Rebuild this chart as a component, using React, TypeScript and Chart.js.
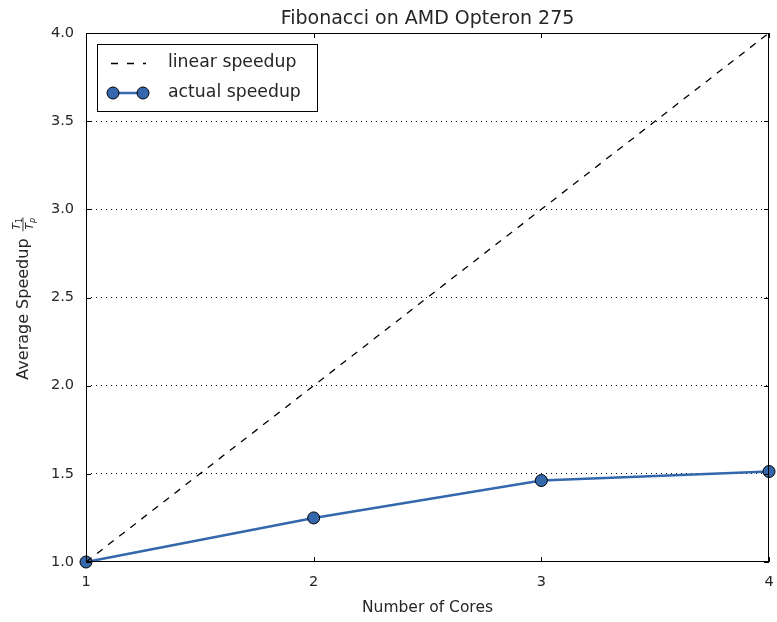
import React, { useEffect, useRef } from "react";
import { Chart, registerables } from "chart.js";
Chart.register(...registerables);

const cores = [1, 2, 3, 4];
const linearSpeedup = [1, 2, 3, 4];
const actualSpeedup = [1.0, 1.25, 1.462, 1.513];
const yTicks = [1.0, 1.5, 2.0, 2.5, 3.0, 3.5, 4.0];
const titleText = "Fibonacci on AMD Opteron 275";
const xTitle = "Number of Cores";
const yTitle = "Average Speedup";
const legendLabels = ["linear speedup", "actual speedup"];

const FONT = "'DejaVu Sans', sans-serif";
const BLUE = "#3467ab";
const TXT = "#262626";

const decorPlugin = {
  id: "decor",
  afterDatasetsDraw(chart: any) {
    const { ctx, chartArea: a, scales } = chart;
    const xs = scales.x, ys = scales.y;
    ctx.save();
    ctx.strokeStyle = "#000";
    ctx.lineWidth = 1;
    ctx.setLineDash([]);
    ctx.strokeRect(a.left + 0.5, a.top + 0.5, a.right - a.left - 1, a.bottom - a.top - 1);
    ctx.beginPath();
    cores.forEach((c) => {
      const x = Math.round(xs.getPixelForValue(c)) + 0.5;
      ctx.moveTo(x, a.bottom); ctx.lineTo(x, a.bottom - 5);
      ctx.moveTo(x, a.top); ctx.lineTo(x, a.top + 5);
    });
    yTicks.forEach((v) => {
      const y = Math.round(ys.getPixelForValue(v)) + 0.5;
      ctx.moveTo(a.left, y); ctx.lineTo(a.left + 5, y);
      ctx.moveTo(a.right, y); ctx.lineTo(a.right - 5, y);
    });
    ctx.stroke();
    ctx.restore();
  },
  afterDraw(chart: any) {
    const { ctx, chartArea: a } = chart;
    ctx.save();
    ctx.fillStyle = TXT;
    ctx.font = `19px ${FONT}`;
    ctx.textAlign = "center";
    ctx.textBaseline = "alphabetic";
    ctx.fillText(titleText, (a.left + a.right) / 2, 24);
    ctx.font = `15.5px ${FONT}`;
    ctx.fillText(xTitle, (a.left + a.right) / 2, 612);
    // y title with fraction
    ctx.translate(28, 0);
    ctx.rotate(-Math.PI / 2);
    ctx.font = `16px ${FONT}`;
    ctx.textAlign = "left";
    const w = ctx.measureText(yTitle + " ").width;
    const fracW = 18;
    const total = w + fracW;
    const mid = (a.top + a.bottom) / 2;
    const start = -(mid + total / 2);
    ctx.fillText(yTitle, start, 0);
    const fx = start + w + fracW / 2;
    ctx.textAlign = "center";
    ctx.font = `italic 11px ${FONT}`;
    ctx.fillText("T", fx - 2, -8);
    ctx.font = `8px ${FONT}`;
    ctx.fillText("1", fx + 4, -6);
    ctx.font = `italic 11px ${FONT}`;
    ctx.fillText("T", fx - 2, 5);
    ctx.font = `italic 8px ${FONT}`;
    ctx.fillText("p", fx + 4, 7);
    ctx.fillRect(fx - 7, -5.5, 14, 0.9);
    ctx.setTransform(1, 0, 0, 1, 0, 0);
    // legend
    const lx = 97, ly = 44, lw = 220, lh = 67;
    ctx.fillStyle = "#fff";
    ctx.fillRect(lx, ly, lw, lh);
    ctx.strokeStyle = "#000";
    ctx.lineWidth = 1;
    ctx.strokeRect(lx + 0.5, ly + 0.5, lw, lh);
    ctx.beginPath();
    ctx.setLineDash([7, 9]);
    ctx.lineWidth = 1.3;
    ctx.moveTo(111, 63.5); ctx.lineTo(146, 63.5);
    ctx.stroke();
    ctx.setLineDash([]);
    ctx.strokeStyle = BLUE;
    ctx.lineWidth = 2.5;
    ctx.beginPath();
    ctx.moveTo(113, 93); ctx.lineTo(143, 93);
    ctx.stroke();
    [113, 143].forEach((x) => {
      ctx.beginPath();
      ctx.arc(x, 93, 6, 0, Math.PI * 2);
      ctx.fillStyle = BLUE;
      ctx.fill();
      ctx.strokeStyle = "#000";
      ctx.lineWidth = 1;
      ctx.stroke();
    });
    ctx.fillStyle = TXT;
    ctx.font = `17.3px ${FONT}`;
    ctx.textAlign = "left";
    ctx.textBaseline = "middle";
    ctx.fillText(legendLabels[0], 168, 63);
    ctx.fillText(legendLabels[1], 168, 93);
    ctx.restore();
  },
};

export default function App() {
  const ref = useRef<HTMLCanvasElement>(null);
  useEffect(() => {
    document.body.style.margin = "0";
    const chart = new Chart(ref.current!, {
      type: "line",
      data: {
        datasets: [
          {
            label: legendLabels[0],
            data: cores.map((c, i) => ({ x: c, y: linearSpeedup[i] })),
            borderColor: "#000",
            borderWidth: 1.3,
            borderDash: [7, 7],
            pointRadius: 0,
            fill: false,
          },
          {
            label: legendLabels[1],
            data: cores.map((c, i) => ({ x: c, y: actualSpeedup[i] })),
            borderColor: BLUE,
            borderWidth: 2.5,
            pointRadius: 6,
            pointBackgroundColor: BLUE,
            pointBorderColor: "#000",
            pointBorderWidth: 1,
            fill: false,
          },
        ],
      },
      options: {
        animation: false,
        responsive: false,
        clip: false as any,
        layout: { padding: { left: 0, top: 33, right: 8, bottom: 0 } },
        plugins: { legend: { display: false }, title: { display: false }, tooltip: { enabled: false } },
        scales: {
          x: {
            type: "linear",
            min: 1,
            max: 4,
            afterFit: (s: any) => { s.height = 60; s.paddingRight = 0; s.paddingLeft = 0; },
            afterBuildTicks: (s: any) => { s.ticks = cores.map((v) => ({ value: v })); },
            grid: { display: false, drawTicks: false },
            border: { display: false },
            ticks: { padding: 12, color: TXT, font: { family: FONT, size: 14.5 }, callback: (v: any) => String(v) },
          },
          y: {
            type: "linear",
            min: 1,
            max: 4,
            afterFit: (s: any) => { s.width = 86; },
            afterBuildTicks: (s: any) => { s.ticks = yTicks.map((v) => ({ value: v })); },
            grid: {
              drawTicks: false,
              color: (c: any) => (c.tick && (c.tick.value === 1 || c.tick.value === 4) ? "rgba(0,0,0,0)" : "#000"),
              lineWidth: 1,
            },
            border: { display: false, dash: [1, 4] },
            ticks: { padding: 12, color: TXT, font: { family: FONT, size: 14.5 }, callback: (v: any) => Number(v).toFixed(1) },
          },
        },
      },
      plugins: [decorPlugin],
    });
    return () => chart.destroy();
  }, []);
  return <canvas ref={ref} width={777} height={622} style={{ display: "block" }} />;
}
